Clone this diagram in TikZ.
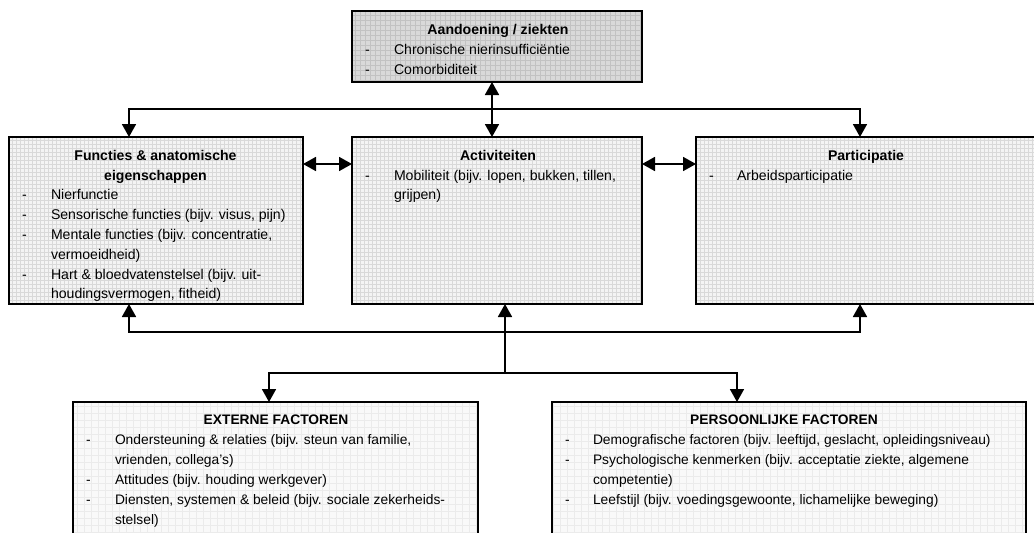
\documentclass[tikz,border=0pt]{standalone}
\usepackage{fontspec}
\setmainfont{Liberation Sans}
\usetikzlibrary{arrows.meta}
\definecolor{topfill}{HTML}{D9D9D9}
\definecolor{topgrid}{HTML}{C2C2C2}
\definecolor{midfill}{HTML}{F4F4F4}
\definecolor{midgrid}{HTML}{D9D9D9}
\definecolor{botfill}{HTML}{F9F9F9}
\definecolor{botgrid}{HTML}{EBEBEB}
\tikzset{
  boxshape/.style={rectangle, inner sep=0pt, outer sep=0pt, anchor=north west},
  border/.style={line width=2pt, draw=black},
  txt/.style={anchor=base west, inner sep=0pt, outer sep=0pt, font=\fontsize{14.1}{20}\selectfont},
  hd/.style={anchor=base, inner sep=0pt, outer sep=0pt, font=\fontsize{14.1}{20}\selectfont\bfseries},
  btxt/.style={txt, font=\fontsize{13.8}{20}\selectfont},
  bhd/.style={hd, font=\fontsize{13.8}{20}\selectfont\bfseries},
  conn/.style={line width=1.8pt, -{Triangle[length=13pt,width=14pt]}},
  dconn/.style={line width=1.8pt, {Triangle[length=13pt,width=14pt]}-{Triangle[length=13pt,width=14pt]}},
}
\begin{document}
\begin{tikzpicture}[x=1pt,y=-1pt]
\useasboundingbox (0,0) rectangle (1034,533);

% boxes (fill)
\node[boxshape, fill=topfill, minimum width=290pt, minimum height=71pt] (aand) at (352,11) {};
\node[boxshape, fill=midfill, minimum width=294pt, minimum height=167pt] (func) at (9,137) {};
\node[boxshape, fill=midfill, minimum width=290pt, minimum height=167pt] (activ) at (352,137) {};
\node[boxshape, fill=midfill, minimum width=340pt, minimum height=167pt] (part) at (696,137) {};
\node[boxshape, fill=botfill, minimum width=405pt, minimum height=160pt] (ext) at (73,402) {};
\node[boxshape, fill=botfill, minimum width=474pt, minimum height=160pt] (pers) at (552,402) {};

% textures
\begin{scope}
  \clip (aand.south west) rectangle (aand.north east);
  \draw[topgrid, line width=0.7pt, step=5pt] (aand.south west) grid (aand.north east);
\end{scope}
\foreach \b in {func,activ,part}{
  \begin{scope}
    \clip (\b.south west) rectangle (\b.north east);
    \draw[midgrid, line width=0.6pt, step=4pt] (\b.south west) grid (\b.north east);
  \end{scope}
}
\foreach \b in {ext,pers}{
  \begin{scope}
    \clip (\b.south west) rectangle (\b.north east);
    \draw[botgrid, line width=0.5pt, step=7pt] (\b.south west) grid (\b.north east);
  \end{scope}
}

% texts: Aandoening
\node[hd] (aandh) at (498,34) {Aandoening / ziekten};
\node[txt] (aandd1) at (365,54) {-};
\node[txt] (aandt1) at (394,54) {Chronische nierinsufficiëntie};
\node[txt] (aandd2) at (365,74) {-};
\node[txt] (aandt2) at (394,74) {Comorbiditeit};

% Functies
\begin{scope}
\clip (func.north west) rectangle ([yshift=4pt]func.south east);
\node[hd] (funch1) at (155.5,160) {Functies \& anatomische};
\node[hd] (funch2) at (155.5,180) {eigenschappen};
\node[txt] (funcd1) at (22,199.5) {-};
\node[txt] (funct1) at (51,199.5) {Nierfunctie};
\node[txt] (funcd2) at (22,219.3) {-};
\node[txt] (funct2) at (51,219.3) {Sensorische functies (bijv. visus, pijn)};
\node[txt] (funcd3) at (22,239) {-};
\node[txt] (funct3) at (51,239) {Mentale functies (bijv. concentratie,};
\node[txt] (funct3b) at (51,259) {vermoeidheid)};
\node[txt] (funcd4) at (22,279) {-};
\node[txt] (funct4) at (51,279) {Hart \& bloedvatenstelsel (bijv. uit-};
\node[txt] (funct4b) at (51,298.8) {houdingsvermogen, fitheid)};
\end{scope}

% Activiteiten
\node[hd] (activh) at (498,160) {Activiteiten};
\node[txt] (activd1) at (365,180) {-};
\node[txt] (activt1) at (394,180) {Mobiliteit (bijv. lopen, bukken, tillen,};
\node[txt] (activt1b) at (394,199.5) {grijpen)};

% Participatie
\node[hd] (parth) at (866,160) {Participatie};
\node[txt] (partd1) at (709,180) {-};
\node[txt] (partt1) at (737,180) {Arbeidsparticipatie};

% Externe factoren
\node[bhd] (exth) at (276,424) {EXTERNE FACTOREN};
\node[btxt] (extd1) at (86,444) {-};
\node[btxt] (extt1) at (115,444) {Ondersteuning \& relaties (bijv. steun van familie,};
\node[btxt] (extt1b) at (115,464) {vrienden, collega’s)};
\node[btxt] (extd2) at (86,484) {-};
\node[btxt] (extt2) at (115,484) {Attitudes (bijv. houding werkgever)};
\node[btxt] (extd3) at (86,504) {-};
\node[btxt] (extt3) at (115,504) {Diensten, systemen \& beleid (bijv. sociale zekerheids-};
\node[btxt] (extt3b) at (115,524) {stelsel)};

% Persoonlijke factoren
\node[bhd] (persh) at (784,424) {PERSOONLIJKE FACTOREN};
\node[btxt] (persd1) at (565,444) {-};
\node[btxt] (perst1) at (593,444) {Demografische factoren (bijv. leeftijd, geslacht, opleidingsniveau)};
\node[btxt] (persd2) at (565,464) {-};
\node[btxt] (perst2) at (593,464) {Psychologische kenmerken (bijv. acceptatie ziekte, algemene};
\node[btxt] (perst2b) at (593,484) {competentie)};
\node[btxt] (persd3) at (565,504) {-};
\node[btxt] (perst3) at (593,504) {Leefstijl (bijv. voedingsgewoonte, lichamelijke beweging)};

% borders
\foreach \b in {aand,func,activ,part,ext,pers}{
  \draw[border] (\b.south west) rectangle (\b.north east);
}

% connectors
\coordinate (jt) at (492,109);
\coordinate (jb) at (505,332);
\coordinate (jc) at (505,373);

\draw[dconn] ([xshift=-5pt]aand.south) -- ([xshift=-5pt]activ.north);
\draw[conn] (jt) -| ([xshift=-27pt]func.north);
\draw[conn] (jt) -| ([xshift=-6pt]part.north);

\draw[dconn] (func.east |- 0,164) -- (activ.west |- 0,164);
\draw[dconn] (activ.east |- 0,164) -- (part.west |- 0,164);

\draw[conn] (jc) -- ([xshift=8pt]activ.south);
\draw[conn] (jb) -| ([xshift=-27pt]func.south);
\draw[conn] (jb) -| ([xshift=-6pt]part.south);
\draw[conn] (jc) -| ([xshift=-6.5pt]ext.north);
\draw[conn] (jc) -| ([xshift=-52pt]pers.north);
\end{tikzpicture}
\end{document}
